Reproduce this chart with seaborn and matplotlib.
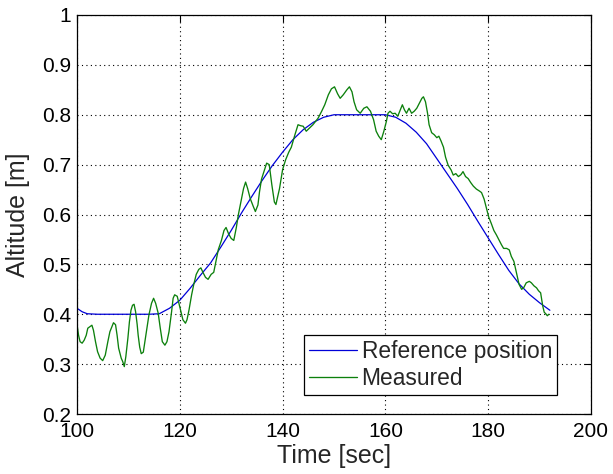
import matplotlib
matplotlib.use("Agg")
import matplotlib.pyplot as plt
import seaborn as sns

# reference trajectory (time in sec, altitude in m)
ref_time = [100, 101, 102, 104, 106, 108, 110, 112, 114, 116, 118, 120, 122, 124,
            126, 128, 130, 132, 134, 136, 138, 140, 142, 144, 146, 148, 150, 152,
            154, 156, 158, 160, 162, 164, 166, 168, 170, 172, 174, 176, 178, 180,
            182, 184, 186, 188, 190, 192]
ref_alt = [0.412, 0.405, 0.401, 0.40, 0.40, 0.40, 0.40, 0.40, 0.40, 0.401, 0.412,
           0.428, 0.452, 0.478, 0.503, 0.535, 0.568, 0.603, 0.636, 0.668, 0.698,
           0.725, 0.75, 0.77, 0.785, 0.795, 0.80, 0.80, 0.80, 0.80, 0.80, 0.80,
           0.795, 0.783, 0.765, 0.742, 0.712, 0.682, 0.652, 0.62, 0.586, 0.553,
           0.52, 0.488, 0.461, 0.44, 0.423, 0.408]

# measured altitude
meas_time = [100.0, 100.3, 100.6, 101.0, 101.4, 101.8, 102.1, 102.5, 102.9, 103.2,
             103.6, 104.0, 104.5, 105.0, 105.5, 106.0, 106.4, 106.8, 107.1, 107.5,
             107.8, 108.1, 108.6, 108.9, 109.2, 109.5, 109.9, 110.2, 110.5, 110.8,
             111.1, 111.4, 111.7, 111.9, 112.2, 112.5, 112.9, 113.2, 113.5, 114.0,
             114.5, 114.9, 115.3, 115.8, 116.2, 116.6, 117.1, 117.5, 117.9, 118.4,
             118.7, 119.0, 119.5, 119.9, 120.3, 120.6, 121.1, 121.4, 121.8, 122.3,
             122.7, 123.2, 123.7, 124.1, 124.5, 125.0, 125.5, 126.1, 126.6, 127.1,
             127.5, 128.1, 128.6, 129.0, 129.5, 130.0, 130.5, 131.0, 131.4, 131.9,
             132.4, 132.8, 133.2, 133.7, 134.3, 134.7, 135.2, 135.5, 135.9, 136.5,
             136.9, 137.4, 137.9, 138.4, 138.7, 139.4, 140.0, 140.6, 141.2, 141.7,
             142.4, 143.0, 143.5, 144.0, 144.6, 145.3, 145.9, 146.9, 147.6, 148.2,
             148.9, 149.5, 150.1, 150.7, 151.2, 151.8, 152.5, 153.0, 153.5, 153.9,
             154.4, 155.1, 155.8, 156.4, 157.1, 157.7, 158.2, 158.7, 159.2, 159.7,
             160.2, 160.5, 160.9, 161.4, 161.9, 162.4, 162.8, 163.3, 163.7, 164.1,
             164.6, 165.1, 165.6, 166.1, 166.6, 167.1, 167.4, 167.8, 168.2, 168.5,
             169.0, 169.5, 170.0, 170.4, 170.8, 171.3, 171.7, 172.2, 172.8, 173.2,
             173.7, 174.2, 174.7, 175.1, 175.6, 176.1, 176.6, 177.1, 177.7, 178.3,
             178.7, 179.2, 179.7, 180.1, 180.6, 181.1, 181.6, 182.1, 182.6, 183.0,
             183.6, 184.1, 184.5, 185.0, 185.5, 186.0, 186.5, 186.9, 187.4, 188.0,
             188.4, 188.9, 189.4, 189.8, 190.2, 190.6, 190.9, 191.2, 191.5, 191.8]
meas_alt = [0.38, 0.358, 0.345, 0.342, 0.348, 0.358, 0.372, 0.375, 0.378, 0.368,
            0.345, 0.325, 0.312, 0.307, 0.318, 0.345, 0.365, 0.375, 0.383, 0.379,
            0.358, 0.332, 0.312, 0.305, 0.295, 0.315, 0.352, 0.385, 0.408, 0.418,
            0.42, 0.405, 0.38, 0.358, 0.334, 0.321, 0.324, 0.345, 0.365, 0.399,
            0.422, 0.432, 0.422, 0.402, 0.372, 0.345, 0.338, 0.345, 0.365, 0.405,
            0.432, 0.439, 0.436, 0.419, 0.402, 0.389, 0.382, 0.389, 0.409, 0.439,
            0.459, 0.48, 0.49, 0.493, 0.484, 0.474, 0.47, 0.48, 0.484, 0.51,
            0.53, 0.548, 0.568, 0.574, 0.561, 0.552, 0.548, 0.574, 0.60, 0.626,
            0.652, 0.665, 0.652, 0.632, 0.616, 0.606, 0.619, 0.645, 0.671, 0.69,
            0.703, 0.70, 0.66, 0.625, 0.62, 0.652, 0.69, 0.71, 0.725, 0.735,
            0.76, 0.78, 0.778, 0.777, 0.767, 0.774, 0.78, 0.793, 0.807, 0.82,
            0.84, 0.852, 0.856, 0.842, 0.833, 0.84, 0.85, 0.856, 0.846, 0.826,
            0.81, 0.803, 0.813, 0.816, 0.807, 0.79, 0.767, 0.757, 0.75, 0.767,
            0.787, 0.803, 0.807, 0.802, 0.803, 0.797, 0.807, 0.82, 0.81, 0.803,
            0.813, 0.803, 0.807, 0.813, 0.823, 0.833, 0.836, 0.826, 0.803, 0.78,
            0.764, 0.76, 0.754, 0.757, 0.748, 0.735, 0.715, 0.699, 0.689, 0.679,
            0.682, 0.676, 0.68, 0.686, 0.676, 0.672, 0.664, 0.657, 0.651, 0.647,
            0.644, 0.631, 0.611, 0.595, 0.582, 0.568, 0.559, 0.549, 0.539, 0.532,
            0.532, 0.529, 0.516, 0.506, 0.483, 0.46, 0.45, 0.453, 0.463, 0.466,
            0.463, 0.457, 0.453, 0.447, 0.443, 0.417, 0.404, 0.401, 0.397, 0.40]

x_ticks = [100, 120, 140, 160, 180, 200]
y_ticks = [0.2, 0.3, 0.4, 0.5, 0.6, 0.7, 0.8, 0.9, 1.0]
y_tick_labels = ["0.2", "0.3", "0.4", "0.5", "0.6", "0.7", "0.8", "0.9", "1"]

sns.set_style("white")
plt.rcParams["font.family"] = ["Liberation Sans", "DejaVu Sans"]

fig = plt.figure(figsize=(6.13, 4.74), dpi=100)
ax = fig.add_axes([77 / 613, 1 - 414 / 474, (591 - 77) / 613, (414 - 15) / 474])

sns.lineplot(x=ref_time, y=ref_alt, ax=ax, color="#0000d8", linewidth=0.9,
             label="Reference position")
sns.lineplot(x=meas_time, y=meas_alt, ax=ax, color="#0c800c", linewidth=0.95,
             label="Measured")

ax.set_xlim(100, 200)
ax.set_ylim(0.2, 1.0)
ax.set_xticks(x_ticks)
ax.set_yticks(y_ticks)
ax.set_yticklabels(y_tick_labels)
ax.grid(True, color="black", linestyle=(0, (1, 3)), linewidth=0.8)
ax.tick_params(direction="in", length=5, width=0.8, top=True, right=True,
               labelsize=15, colors="black")
ax.tick_params(axis="y", pad=4)
ax.tick_params(axis="x", pad=6)
for s in ax.spines.values():
    s.set_visible(True)
    s.set_color("black")
    s.set_linewidth(0.9)

ax.set_xlabel("Time [sec]", fontsize=18, labelpad=2)
ax.set_ylabel("Altitude [m]", fontsize=18, labelpad=9)

leg = ax.legend(loc="lower right", bbox_to_anchor=(0.934, 0.048), fontsize=16.4,
                frameon=True, fancybox=False, framealpha=1, edgecolor="black",
                handlelength=2.1, handletextpad=0.2, labelspacing=0.18,
                borderpad=0.22, borderaxespad=0)
leg.get_frame().set_linewidth(0.9)

fig.savefig("out.png", dpi=100)
